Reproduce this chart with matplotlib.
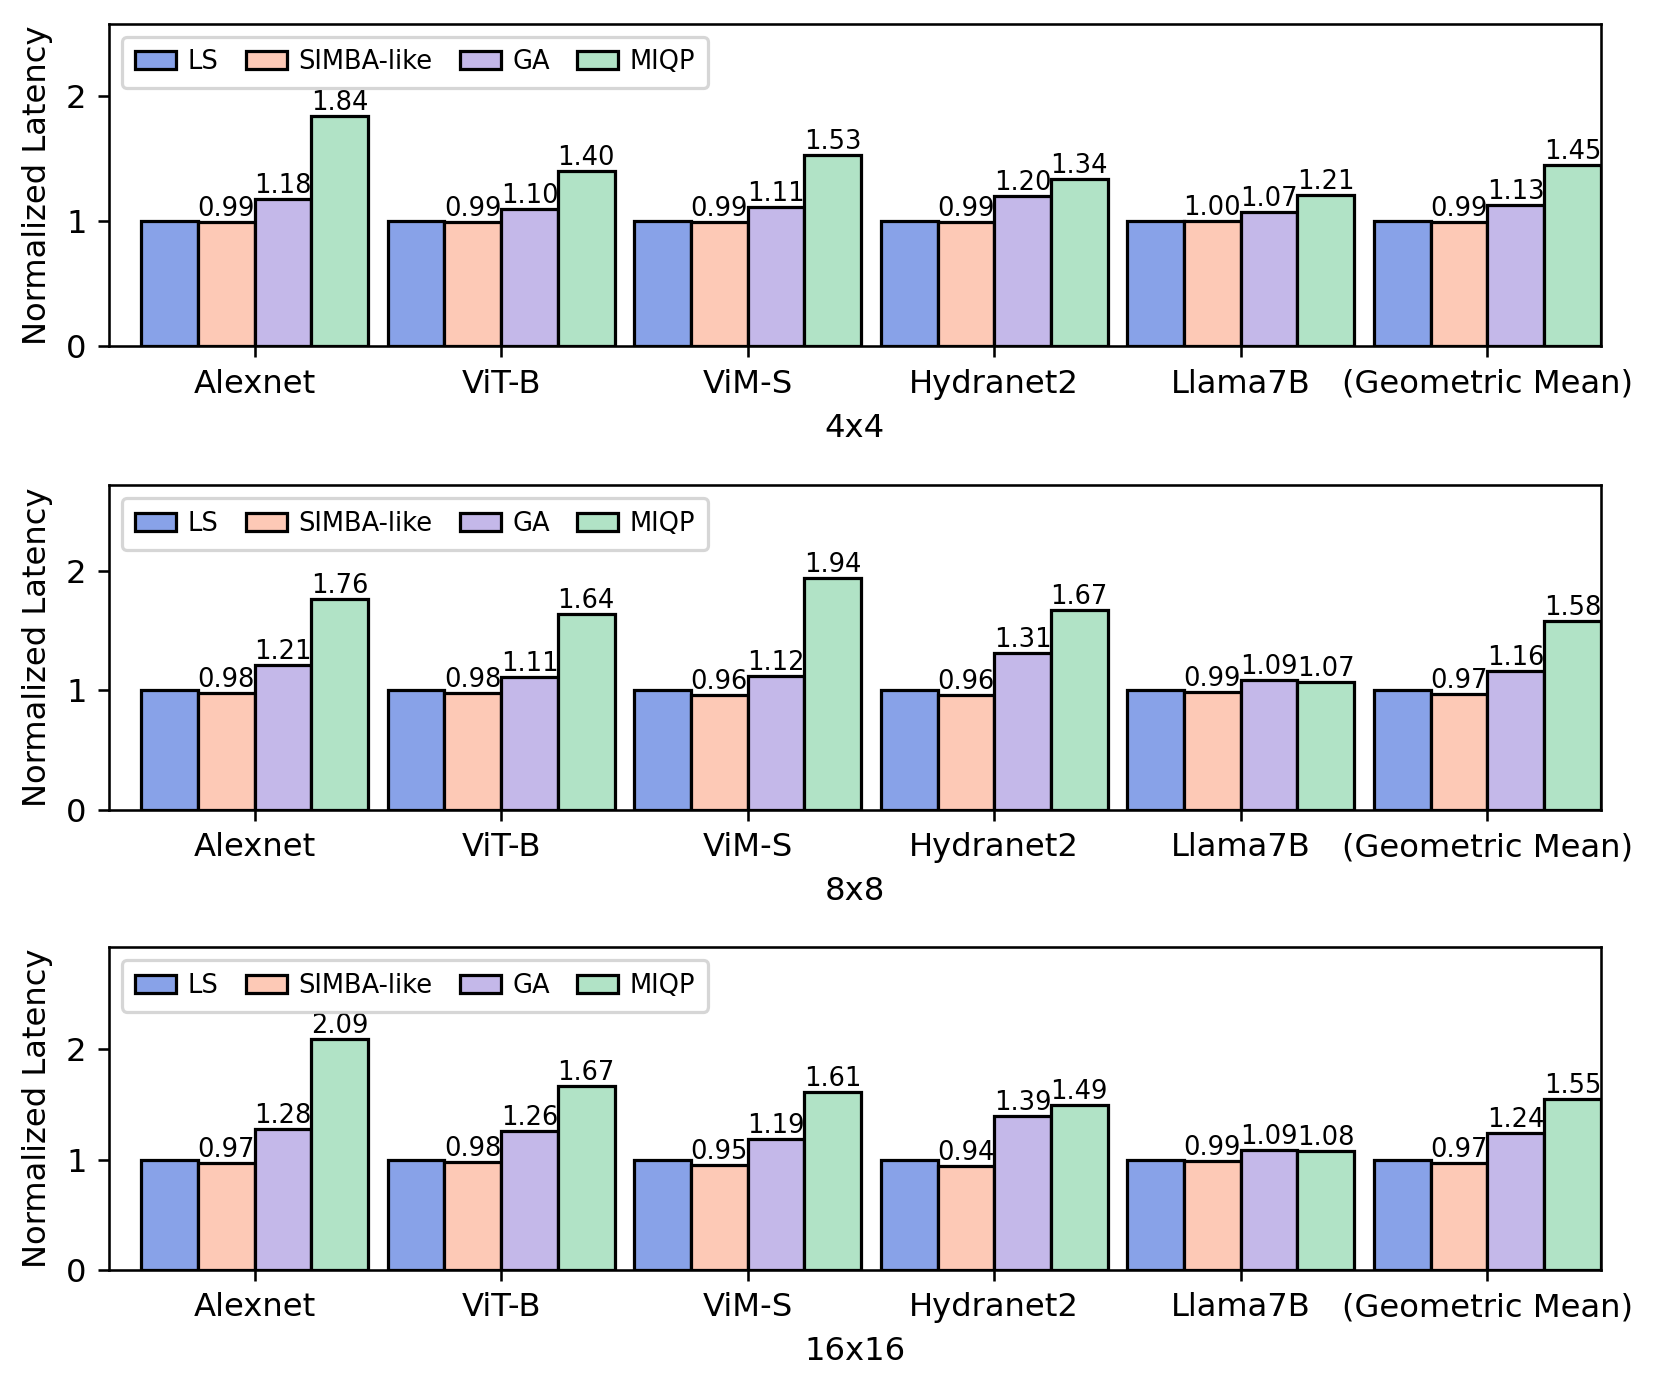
import numpy as np
import matplotlib
matplotlib.use('Agg')
import matplotlib.pyplot as plt

models = ['Alexnet', 'ViT-B', 'ViM-S', 'Hydranet2', 'Llama7B', '(Geometric Mean)']
methods = ['LS', 'SIMBA-like', 'GA', 'MIQP']
colors = ['#88a2e8', '#fdc9b6', '#c4b8e9', '#b1e3c6']
configs = ['4x4', '8x8', '16x16']

# normalized latency per config, one list per method
ls_4 = [1.00, 1.00, 1.00, 1.00, 1.00, 1.00]
simba_4 = [0.99, 0.99, 0.99, 0.99, 1.00, 0.99]
ga_4 = [1.18, 1.10, 1.11, 1.20, 1.07, 1.13]
miqp_4 = [1.84, 1.40, 1.53, 1.34, 1.21, 1.45]

ls_8 = [1.00, 1.00, 1.00, 1.00, 1.00, 1.00]
simba_8 = [0.98, 0.98, 0.96, 0.96, 0.99, 0.97]
ga_8 = [1.21, 1.11, 1.12, 1.31, 1.09, 1.16]
miqp_8 = [1.76, 1.64, 1.94, 1.67, 1.07, 1.58]

ls_16 = [1.00, 1.00, 1.00, 1.00, 1.00, 1.00]
simba_16 = [0.97, 0.98, 0.95, 0.94, 0.99, 0.97]
ga_16 = [1.28, 1.26, 1.19, 1.39, 1.09, 1.24]
miqp_16 = [2.09, 1.67, 1.61, 1.49, 1.08, 1.55]

data = [
    [ls_4, simba_4, ga_4, miqp_4],
    [ls_8, simba_8, ga_8, miqp_8],
    [ls_16, simba_16, ga_16, miqp_16],
]

DPI = 232
fig = plt.figure(figsize=(1661 / DPI, 1394 / DPI), dpi=DPI)

# axes boxes (left, bottom, width, height) in figure fractions
boxes = [
    [0.0657, 0.7515, 0.898, 0.2315],
    [0.0657, 0.419, 0.898, 0.233],
    [0.0657, 0.089, 0.898, 0.2317],
]

x = np.arange(len(models))
w = 0.23

for box, cfg, series in zip(boxes, configs, data):
    ax = fig.add_axes(box)
    for k, (name, vals) in enumerate(zip(methods, series)):
        bars = ax.bar(x + (k - 1.5) * w, vals, w, color=colors[k],
                      edgecolor='black', linewidth=1.0, label=name)
        if k > 0:
            ax.bar_label(bars, fmt='%.2f', fontsize=8, padding=0)
    top = max(max(s) for s in series)
    ax.set_ylim(0, top * 1.4)
    ax.set_xlim(-0.59, x[-1] + 2 * w)
    ax.set_yticks([0, 1, 2])
    ax.set_xticks(x)
    ax.set_xticklabels(models)
    ax.set_xlabel(cfg)
    ax.set_ylabel('Normalized Latency')
    ax.legend(loc='upper left', ncol=4, fontsize=8, handlelength=1.6,
              handletextpad=0.45, columnspacing=1.05, borderpad=0.5)

fig.savefig('out.png', dpi=DPI)
